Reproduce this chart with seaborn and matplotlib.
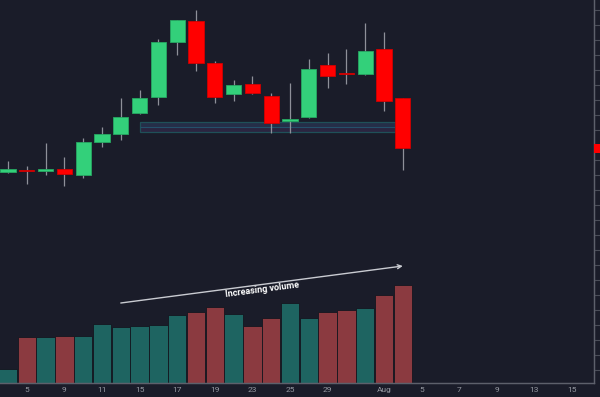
import matplotlib
matplotlib.use('Agg')

import numpy as np
import pandas as pd
import seaborn as sns
import matplotlib.pyplot as plt
from matplotlib.patches import Rectangle
import matplotlib.transforms as mtransforms

# Daily OHLC (trading days, Jul 4 - Aug 2)
opens = [207.8, 208.05, 207.9, 208.1, 207.5, 210.8, 211.6, 213.7, 215.3, 220.8, 222.9,
         218.7, 215.6, 216.6, 215.4, 212.9, 213.3, 218.5, 217.75, 217.6, 220.1, 215.2]
highs = [208.9, 208.4, 210.7, 209.3, 211.2, 212.3, 215.2, 216.0, 221.1, 223.0, 224.0,
         218.9, 217.0, 217.4, 215.7, 216.7, 219.1, 219.7, 220.1, 222.7, 221.8, 215.2]
lows = [207.7, 206.6, 207.5, 206.4, 207.2, 210.3, 211.0, 213.6, 214.5, 219.5, 217.9,
        214.7, 214.9, 215.6, 211.7, 211.7, 213.2, 216.2, 216.6, 217.5, 213.9, 208.0]
closes = [208.1, 207.95, 208.1, 207.6, 210.8, 211.6, 213.3, 215.2, 220.8, 223.0, 218.7,
          215.3, 216.5, 215.7, 212.7, 213.1, 218.1, 217.4, 217.65, 219.9, 214.9, 210.2]
volumes = [7.0, 23.0, 23.0, 23.5, 23.5, 29.5, 28.2, 28.7, 29.0, 34.2, 35.3,
           37.8, 34.5, 28.5, 32.5, 40.2, 32.5, 35.5, 36.3, 37.5, 44.0, 49.0]

# axis labels every two trading days (index -> label)
tick_pos = [1, 3, 5, 7, 9, 11, 13, 15, 17, 20, 22, 24, 26, 28, 30]
tick_labels = ['5', '9', '11', '15', '17', '19', '23', '25', '29', 'Aug', '5', '7', '9', '13', '15']

# support zone and annotation
zone_low, zone_mid, zone_high = 211.8, 212.3, 212.8
zone_start, zone_end = 7.0, 20.6
arrow_start = (6.0, 194.7)
arrow_end = (21.0, 198.4)

BG = '#1a1c29'
UP = '#33d07a'
DOWN = '#ff0000'
VOL_UP = '#1e6461'
VOL_DOWN = '#8b3a40'
AXIS = '#5d606b'
TEXT = '#9598a1'

sns.set_theme(style='dark')
plt.rcParams['font.family'] = ['Roboto', 'DejaVu Sans']

df = pd.DataFrame({'Open': opens, 'High': highs, 'Low': lows, 'Close': closes, 'Volume': volumes})
df['idx'] = np.arange(len(df))
df['Dir'] = np.where(df['Close'] >= df['Open'], 'up', 'down')

fig = plt.figure(figsize=(6, 3.97), dpi=100, facecolor=BG)
ax = fig.add_axes([0, 14 / 397, 594 / 600, 383 / 397])
ax.set_facecolor(BG)

# volume overlay on a twin axis
vax = ax.twinx()
sns.barplot(data=df, x='idx', y='Volume', hue='Dir', palette={'up': VOL_UP, 'down': VOL_DOWN},
            native_scale=True, dodge=False, width=0.97, legend=False, ax=vax,
            edgecolor='#14161f', linewidth=0.6, saturation=1)
vax.set_ylim(0, 191.5)
vax.set_yticks([])
vax.set_ylabel('')
vax.set_xlabel('')
vax.set_zorder(0)
ax.set_zorder(1)
ax.patch.set_visible(False)

# support zone
ax.add_patch(Rectangle((zone_start, zone_mid), zone_end - zone_start, zone_high - zone_mid,
                       facecolor='#252e48', edgecolor='none', zorder=1))
ax.add_patch(Rectangle((zone_start, zone_low), zone_end - zone_start, zone_mid - zone_low,
                       facecolor='#2b2540', edgecolor='none', zorder=1))
ax.add_patch(Rectangle((zone_start, zone_low), zone_end - zone_start, zone_high - zone_low,
                       facecolor='none', edgecolor='#1f5058', linewidth=0.9, zorder=1))
ax.hlines(zone_mid, zone_start, zone_end, color='#24506a', linewidth=0.8, zorder=1)

# candles
colors = np.where(df['Dir'] == 'up', UP, DOWN)
edges = np.where(df['Dir'] == 'up', '#27a862', '#d10000')
ax.vlines(df['idx'], df['Low'], df['High'], color='#8e9099', linewidth=0.9, zorder=2)
body_low = df[['Open', 'Close']].min(axis=1)
body_h = (df['Close'] - df['Open']).abs()
ax.bar(df['idx'], body_h, bottom=body_low, width=0.8, color=colors,
       edgecolor=edges, linewidth=0.6, zorder=3)

# last price marker on the price scale
trans = mtransforms.blended_transform_factory(ax.transAxes, ax.transData)
ax.add_patch(Rectangle((1.0, closes[-1] - 0.45), 0.02, 0.9, transform=trans,
                       facecolor=DOWN, edgecolor='none', clip_on=False, zorder=5))

# annotation
ax.annotate('', xy=arrow_end, xytext=arrow_start,
            arrowprops=dict(arrowstyle='->', color='#c9cbd1', lw=1.0,
                            shrinkA=0, shrinkB=0, mutation_scale=7), zorder=6)
ax.text(13.5, 196.0, 'Increasing volume', color='white', fontsize=6.5, fontweight='bold',
        rotation=7.5, ha='center', va='center', zorder=6)

ax.set_xlim(-0.4255, 31.17)
vax.set_xlim(-0.4255, 31.17)
ax.set_ylim(186.7, 225.0)

ax.set_xticks(tick_pos)
ax.set_xticklabels(tick_labels)
ax.yaxis.tick_right()
ax.set_yticks(np.arange(188, 225, 1.5))
ax.tick_params(axis='y', right=True, length=4, width=0.8, color='#4a4d58',
               labelright=False, labelleft=False)
ax.tick_params(axis='x', bottom=False, length=0, pad=3, labelsize=6, labelcolor=TEXT)
ax.grid(False)
vax.grid(False)

for a in (ax, vax):
    for side in ('top', 'left'):
        a.spines[side].set_visible(False)
    a.spines['bottom'].set_color(AXIS)
    a.spines['right'].set_color(AXIS)
    a.spines['bottom'].set_linewidth(0.9)
    a.spines['right'].set_linewidth(0.9)
ax.set_xlabel('')
ax.set_ylabel('')

fig.savefig('out.png', dpi=100, facecolor=BG)
